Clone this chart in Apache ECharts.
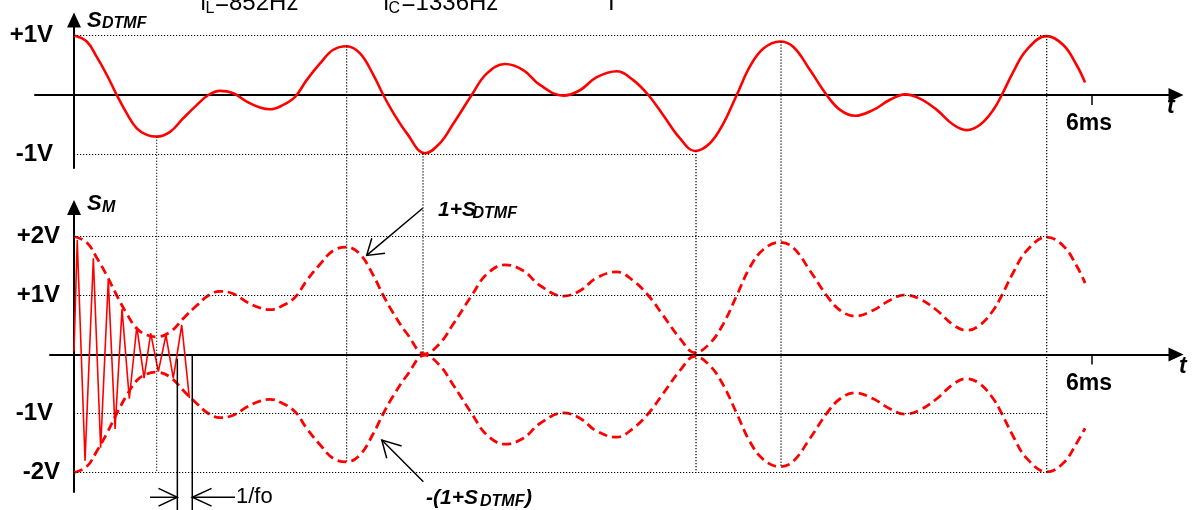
<!DOCTYPE html>
<html>
<head>
<meta charset="utf-8">
<script src="https://cdn.jsdelivr.net/npm/echarts@6/dist/echarts.min.js"></script>
<style>html,body{margin:0;padding:0;background:#fff}#c{width:1192px;height:510px}</style>
</head>
<body>
<div id="c"></div>
<script>
// ---------- data (time in ms, voltage in V) ----------
const timeMs = [0, 0.075, 0.134, 0.193, 0.252, 0.311, 0.370, 0.429, 0.487, 0.566, 0.644, 0.723, 0.792, 0.860, 0.939,
  1.018, 1.096, 1.155, 1.224, 1.303, 1.371, 1.450, 1.528, 1.607, 1.686, 1.764, 1.823, 1.882, 1.961, 2.069, 2.157,
  2.236, 2.344, 2.432, 2.540, 2.648, 2.746, 2.884, 2.982, 3.081, 3.199, 3.296, 3.385, 3.473, 3.572, 3.660, 3.748,
  3.827, 3.906, 3.984, 4.063, 4.161, 4.239, 4.338, 4.436, 4.515, 4.603, 4.711, 4.809, 4.898, 4.986, 5.085, 5.183,
  5.261, 5.340, 5.418, 5.468, 5.536, 5.615, 5.733, 5.831, 5.910, 5.959];
const sDtmf = [1.00, 0.90, 0.64, 0.34, 0, -0.31, -0.56, -0.67, -0.70, -0.62, -0.39, -0.17, 0, 0.07, 0.03,
  -0.11, -0.21, -0.24, -0.18, -0.03, 0.25, 0.53, 0.76, 0.82, 0.70, 0.34, 0, -0.30, -0.64, -0.98, -0.81,
  -0.48, 0, 0.36, 0.52, 0.42, 0.17, -0.01, 0.08, 0.30, 0.40, 0.25, 0, -0.34, -0.73, -0.94, -0.81,
  -0.48, 0, 0.48, 0.78, 0.90, 0.81, 0.42, 0, -0.25, -0.35, -0.25, -0.08, 0.01, -0.06, -0.25, -0.50,
  -0.59, -0.50, -0.25, 0, 0.39, 0.76, 0.99, 0.84, 0.50, 0.21];
const envUpper = [2.00, 1.90, 1.64, 1.34, 1.00, 0.69, 0.44, 0.33, 0.30, 0.38, 0.61, 0.83, 1.00, 1.07, 1.03,
  0.89, 0.79, 0.76, 0.82, 0.97, 1.25, 1.53, 1.76, 1.82, 1.70, 1.34, 1.00, 0.70, 0.36, 0.01, 0.19,
  0.52, 1.00, 1.36, 1.52, 1.42, 1.17, 0.99, 1.08, 1.30, 1.40, 1.25, 1.00, 0.66, 0.27, 0.03, 0.19,
  0.52, 1.00, 1.48, 1.78, 1.90, 1.81, 1.42, 1.00, 0.75, 0.65, 0.75, 0.92, 1.01, 0.94, 0.75, 0.50,
  0.41, 0.50, 0.75, 1.00, 1.39, 1.76, 1.99, 1.84, 1.50, 1.21];
const envLower = [-2.00, -1.90, -1.64, -1.34, -1.00, -0.69, -0.44, -0.33, -0.30, -0.38, -0.61, -0.83, -1.00, -1.07, -1.03,
  -0.89, -0.79, -0.76, -0.82, -0.97, -1.25, -1.53, -1.76, -1.82, -1.70, -1.34, -1.00, -0.70, -0.36, -0.01, -0.19,
  -0.52, -1.00, -1.36, -1.52, -1.42, -1.17, -0.99, -1.08, -1.30, -1.40, -1.25, -1.00, -0.66, -0.27, -0.03, -0.19,
  -0.52, -1.00, -1.48, -1.78, -1.90, -1.81, -1.42, -1.00, -0.75, -0.65, -0.75, -0.92, -1.01, -0.94, -0.75, -0.50,
  -0.41, -0.50, -0.75, -1.00, -1.39, -1.76, -1.99, -1.84, -1.50, -1.25];
const burstT = [0, 0.019, 0.065, 0.114, 0.157, 0.202, 0.242, 0.283, 0.326, 0.370, 0.413, 0.452, 0.497, 0.542, 0.585, 0.635, 0.680];
const burstV = [0.05, 1.94, -1.80, 1.63, -1.58, 1.26, -1.26, 0.77, -0.75, 0.47, -0.40, 0.36, -0.29, 0.33, -0.40, 0.50, -0.74];

const topTicksV = [1, -1];
const bottomTicksV = [2, 1, -1, -2];
const timeTicks = [6];

// guide (dotted) lines: vertical ones join extremes of S_DTMF to the envelope below
const guideT = [0.487, 1.607, 2.057, 3.666, 4.167, 5.733];
const guideTopV = [-0.70, 0.82, -0.98, -0.94, 0.90, 0.99];
const guideBottomV = [-2, -1.82, 0, -2, -1.90, -2];
const guideTopLevels = [1, -1];
const guideTopEnds = [5.733, 3.666];
const guideBottomEnd = 5.733;

// 1/fo markers
const periodMarksT = [0.609, 0.697];

// ---------- chart ----------
const FONT = '"Liberation Sans", Arial, sans-serif';
const RED = '#ff0000';
const pairs = (ts, vs) => ts.map((t, i) => [t, vs[i]]);
const dotted = { color: '#000', width: 1.2, type: [1.2, 1.8] };

function xAxisOf(gi, min) {
  return {
    type: 'value', gridIndex: gi, min: min, max: 6.495,
    axisLine: { onZero: true, symbol: ['none', 'triangle'], symbolSize: [14, 15], lineStyle: { color: '#000', width: 2 } },
    axisTick: { show: true, customValues: timeTicks, length: 10, lineStyle: { color: '#000', width: 1.5 } },
    axisLabel: { show: false },
    splitLine: { show: false }
  };
}
function yAxisOf(gi, min, max) {
  return {
    type: 'value', gridIndex: gi, min: min, max: max,
    axisLine: { onZero: true, symbol: ['none', 'triangle'], symbolSize: [14, 15], lineStyle: { color: '#000', width: 2 } },
    axisTick: { show: false },
    axisLabel: { show: false },
    splitLine: { show: false }
  };
}

const chart = echarts.init(document.getElementById('c'), null, { renderer: 'canvas' });
const option = {
  animation: false,
  backgroundColor: '#fff',
  textStyle: { fontFamily: FONT },
  grid: [
    { left: 35, right: 16, top: 20, height: 148, containLabel: false, outerBoundsMode: 'none' },
    { left: 50, right: 16, top: 207.5, height: 284.5, containLabel: false, outerBoundsMode: 'none' }
  ],
  xAxis: [xAxisOf(0, -0.2299), xAxisOf(1, -0.1415)],
  yAxis: [yAxisOf(0, -1.2269, 1.2605), yAxisOf(1, -2.3305, 2.4915)],
  series: [
    {
      name: 'S_DTMF', type: 'line', xAxisIndex: 0, yAxisIndex: 0, data: pairs(timeMs, sDtmf),
      smooth: 0.4, showSymbol: false, lineStyle: { color: RED, width: 2.6 },
      markLine: {
        silent: true, symbol: 'none', label: { show: false }, lineStyle: dotted,
        data: guideTopLevels.map((v, i) => [{ coord: [0, v] }, { coord: [guideTopEnds[i], v] }])
      }
    },
    {
      name: '1+S_DTMF', type: 'line', xAxisIndex: 1, yAxisIndex: 1, data: pairs(timeMs, envUpper),
      smooth: 0.4, showSymbol: false, lineStyle: { color: RED, width: 2.8, type: [9, 5] },
      markLine: {
        silent: true, symbol: 'none', label: { show: false }, lineStyle: dotted,
        data: bottomTicksV.map(v => [{ coord: [0, v] }, { coord: [guideBottomEnd, v] }])
      }
    },
    {
      name: '-(1+S_DTMF)', type: 'line', xAxisIndex: 1, yAxisIndex: 1, data: pairs(timeMs, envLower),
      smooth: 0.4, showSymbol: false, lineStyle: { color: RED, width: 2.8, type: [9, 5] }
    },
    {
      name: 'S_M', type: 'line', xAxisIndex: 1, yAxisIndex: 1, data: pairs(burstT, burstV),
      smooth: false, showSymbol: false, lineStyle: { color: RED, width: 1.6 }
    }
  ]
};
chart.setOption(option);

// ---------- annotations (anchored through the axes' scales) ----------
const P0 = (t, v) => chart.convertToPixel({ gridIndex: 0 }, [t, v]);
const P1 = (t, v) => chart.convertToPixel({ gridIndex: 1 }, [t, v]);
const g = [];
const line = (a, b, style) => g.push({ type: 'line', silent: true, z: 50, shape: { x1: a[0], y1: a[1], x2: b[0], y2: b[1] }, style: Object.assign({ stroke: '#000', lineWidth: 1.5 }, style || {}) });
const poly = (pts, style) => g.push({ type: 'polyline', silent: true, z: 50, shape: { points: pts }, style: Object.assign({ stroke: '#000', lineWidth: 1.5, fill: null }, style || {}) });
const fontOf = (size, weight, italic) => (italic ? 'italic ' : '') + (weight || 'normal') + ' ' + size + 'px ' + FONT;
const text = (s, x, baseline, size, weight, italic, align) => g.push({
  type: 'text', silent: true, z: 60, x: x, y: baseline - 0.35 * size,
  style: { text: s, fill: '#000', font: fontOf(size, weight, italic), align: align || 'left', verticalAlign: 'middle' }
});
const tickLabel = (s, p, dx, align) => g.push({
  type: 'text', silent: true, z: 60, x: p[0] + dx, y: p[1],
  style: { text: s, fill: '#000', font: fontOf(24, 'bold'), align: align, verticalAlign: 'middle' }
});
const fmtV = v => (v > 0 ? '+' : '') + v + 'V';

// tick labels
topTicksV.forEach(v => tickLabel(fmtV(v), P0(0, v), -21, 'right'));
bottomTicksV.forEach(v => tickLabel(fmtV(v), P1(0, v), v === -1 ? -21 : -14, 'right'));
timeTicks.forEach(t => {
  const a = P0(t, 0), b = P1(t, 0);
  text(t + 'ms', a[0] - 3, a[1] + 36.5, 23, 'bold', false, 'center');
  text(t + 'ms', b[0] - 3, b[1] + 37.5, 23, 'bold', false, 'center');
});

// vertical dotted guides across both panels
guideT.forEach((t, i) => line(P0(t, guideTopV[i]), P1(t, guideBottomV[i]), { lineWidth: 1.2, lineDash: [1.2, 1.8] }));

// 1/fo period markers and dimension arrows
line(P1(periodMarksT[0], -0.07), P1(periodMarksT[0], -2.64));
line(P1(periodMarksT[1], 0), P1(periodMarksT[1], -2.64));
line(P1(0.448, -2.42), P1(periodMarksT[0], -2.42));
poly([P1(0.498, -2.27), P1(periodMarksT[0], -2.42), P1(0.498, -2.57)]);
line(P1(periodMarksT[1], -2.42), P1(0.949, -2.42));
poly([P1(0.811, -2.27), P1(periodMarksT[1], -2.42), P1(0.811, -2.57)]);

// arrows pointing to the envelopes
line(P1(2.055, 2.478), P1(1.725, 1.68));
poly([P1(1.755, 1.97), P1(1.725, 1.68), P1(1.833, 1.715)]);
line(P1(2.059, -2.156), P1(1.814, -1.449));
poly([P1(1.843, -1.759), P1(1.814, -1.449), P1(1.931, -1.551)]);

// texts
text('f', 200, 11.5, 24); text('L', 205.5, 14, 16); text('=852Hz', 215, 11.5, 24);
text('f', 383, 11.5, 24); text('C', 388.5, 14, 16); text('=1336Hz', 401.6, 11.5, 24);
text('T', 604, 11.5, 24);
text('S', 87, 28.5, 22, 'bold', true); text('DTMF', 102, 29.5, 16, 'bold', true);
text('S', 87, 212, 22, 'bold', true); text('M', 102, 213, 16, 'bold', true);
text('t', 1167, 115, 23, 'bold', true);
text('t', 1179, 375, 23, 'bold', true);
text('1/fo', 236, 505, 22);
text('1+S', 438, 217.5, 21, 'bold', true); text('DTMF', 472.5, 219.5, 16, 'bold', true);
text('-(1+S', 426, 505.5, 21, 'bold', true); text('DTMF', 480, 507, 16, 'bold', true); text(')', 525, 505.5, 21, 'bold', true);

chart.setOption({ graphic: { elements: g } });
</script>
</body>
</html>
